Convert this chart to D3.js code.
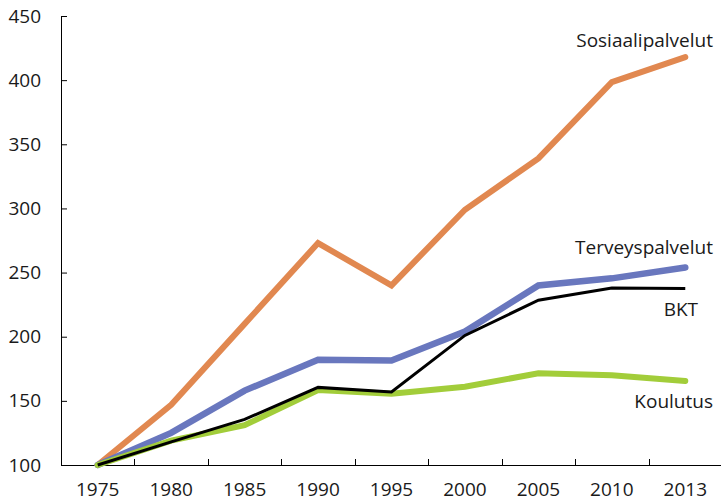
<!DOCTYPE html>
<html>
<head>
<meta charset="utf-8">
<script src="https://cdn.jsdelivr.net/npm/d3@7"></script>
<style>
  body { margin: 0; background: #fff; }
  svg { display: block; font-family: "Open Sans", sans-serif; }
  .axis text { font-size: 19px; fill: #1a1a1a; font-family: "Open Sans", sans-serif; }
  .axis path, .axis line { stroke: #000; }
  .label { font-size: 19px; fill: #1a1a1a; }
</style>
</head>
<body>
<svg id="Vis" width="721" height="501"></svg>
<script>
const years = ["1975", "1980", "1985", "1990", "1995", "2000", "2005", "2010", "2013"];
const yTicks = [100, 150, 200, 250, 300, 350, 400, 450];

const sosiaalipalvelut = [100, 147, 210, 273, 240, 299, 339, 398.5, 418];
const terveyspalvelut = [100, 125, 158, 182, 181.5, 204, 240, 245.5, 254];
const koulutus = [100, 119, 131, 158.5, 155.5, 161, 171.5, 170, 165.5];
const bkt = [100, 118, 135.5, 160.5, 157, 201, 228.5, 238, 237.5];

const seriesNames = ["Sosiaalipalvelut", "Terveyspalvelut", "Koulutus", "BKT"];

const margin = { top: 16, bottom: 36, left: 61, right: -1 };

const svg = d3.select("svg#Vis");
const width = +svg.attr("width");
const height = +svg.attr("height");

const xScale = d3.scaleBand()
  .domain(years)
  .range([margin.left, width - margin.right]);

const yScale = d3.scaleLinear()
  .domain([100, 450])
  .range([height - margin.bottom, margin.top]);

/* AXES */
const xAxis = d3.axisBottom(xScale).tickSize(0).tickPadding(18).tickSizeOuter(0);
const xGroup = svg.append("g").attr("class", "axis")
  .attr("transform", "translate(0," + yScale(100) + ")")
  .call(xAxis);

// ticks between categories, pointing up
xGroup.selectAll("line.bound")
  .data(years.slice(1))
  .enter().append("line")
    .attr("class", "bound")
    .attr("x1", d => Math.round(xScale(d)) + 0.5)
    .attr("x2", d => Math.round(xScale(d)) + 0.5)
    .attr("y1", 0)
    .attr("y2", -6)
    .attr("stroke", "#888");

const yAxis = d3.axisLeft(yScale).tickValues(yTicks).tickSize(-6).tickSizeOuter(0).tickPadding(20);
svg.append("g").attr("class", "axis")
  .attr("transform", "translate(" + margin.left + ",0)")
  .call(yAxis);

/* LINES */
const line = d3.line()
  .x((d, i) => xScale(years[i]) + xScale.bandwidth() / 2)
  .y(d => yScale(d));

const styles = [
  { data: sosiaalipalvelut, color: "#E18850", w: 6, cap: "round" },
  { data: terveyspalvelut, color: "#6977BE", w: 6.5, cap: "round" },
  { data: koulutus, color: "#A2CD3A", w: 6, cap: "round" },
  { data: bkt, color: "#000000", w: 3, cap: "butt" }
];

svg.append("g").selectAll("path")
  .data(styles)
  .enter().append("path")
    .attr("d", d => line(d.data))
    .attr("fill", "none")
    .attr("stroke", d => d.color)
    .attr("stroke-width", d => d.w)
    .attr("stroke-linecap", d => d.cap)
    .attr("stroke-linejoin", "miter");

/* LABELS */
const labels = [
  { text: seriesNames[0], x: 713, y: 47 },
  { text: seriesNames[1], x: 713, y: 254 },
  { text: seriesNames[3], x: 698, y: 316 },
  { text: seriesNames[2], x: 713, y: 408 }
];

svg.append("g").selectAll("text")
  .data(labels)
  .enter().append("text")
    .attr("class", "label")
    .attr("x", d => d.x)
    .attr("y", d => d.y)
    .attr("text-anchor", "end")
    .text(d => d.text);
</script>
</body>
</html>
